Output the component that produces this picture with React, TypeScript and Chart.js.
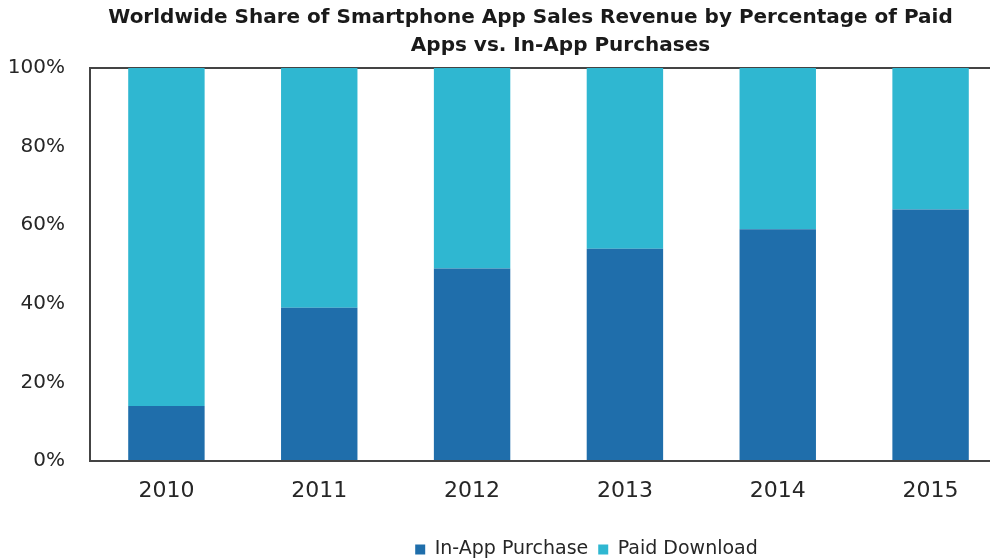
import React, { useEffect, useRef } from "react";
import { Chart, registerables, Title } from "chart.js";

Chart.register(...registerables);

const categories = ["2010", "2011", "2012", "2013", "2014", "2015"];
const inAppPurchase = [14, 39, 49, 54, 59, 64];
const paidDownload = [86, 61, 51, 46, 41, 36];
const yTicks = [0, 20, 40, 60, 80, 100];
const titleLine1 = "Worldwide Share of Smartphone App Sales Revenue by Percentage of Paid";
const titleLine2 = "Apps vs. In-App Purchases";

const TitleClass: any = (Title as any)._element;

const shiftPlugin = {
  id: "shiftBoxes",
  afterLayout(chart: any) {
    const boxes = chart.boxes || [];
    boxes.forEach((b: any) => {
      if (TitleClass && b instanceof TitleClass) {
        const dx = b === chart.titleBlock ? 27 : 57;
        b.left += dx;
        b.right += dx;
      }
    });
    if (chart.legend) {
      chart.legend.left += 83;
      chart.legend.right += 83;
      chart.legend.top += 11;
      chart.legend.bottom += 11;
    }
  },
};

export default function App() {
  const ref = useRef<HTMLCanvasElement>(null);
  useEffect(() => {
    if (!ref.current) return;
    const chart = new Chart(ref.current, {
      type: "bar",
      data: {
        labels: categories,
        datasets: [
          {
            label: "In-App Purchase",
            data: inAppPurchase,
            backgroundColor: "#1f6eab",
            borderWidth: 0,
          },
          {
            label: "Paid Download",
            data: paidDownload,
            backgroundColor: "#2fb7d1",
            borderWidth: 0,
          },
        ],
      },
      plugins: [shiftPlugin],
      options: {
        responsive: false,
        animation: false,
        layout: { padding: { left: 0, right: 3, top: 0, bottom: 1 } },
        datasets: { bar: { barPercentage: 0.5, categoryPercentage: 1 } },
        plugins: {
          title: {
            display: true,
            text: titleLine1,
            color: "#1a1a1a",
            font: { family: "DejaVu Sans", size: 20, weight: "bold", lineHeight: 1.2 },
            padding: { top: 6, bottom: 0 },
          },
          subtitle: {
            display: true,
            text: titleLine2,
            color: "#1a1a1a",
            font: { family: "DejaVu Sans", size: 20, weight: "bold", lineHeight: 1.2 },
            padding: { top: 4, bottom: 10 },
          },
          legend: {
            position: "bottom",
            labels: {
              boxWidth: 10,
              boxHeight: 10,
              padding: 10,
              color: "#262626",
              font: { family: "DejaVu Sans", size: 19 },
            },
          },
          tooltip: { enabled: false },
        },
        scales: {
          x: {
            stacked: true,
            grid: { display: false, drawTicks: false },
            border: { display: true, color: "#444", width: 2 },
            ticks: {
              color: "#262626",
              font: { family: "DejaVu Sans", size: 22 },
              padding: 17,
            },
            afterFit: (s: any) => {
              s.height = 58;
            },
          },
          y: {
            stacked: true,
            min: 0,
            max: 100,
            afterBuildTicks: (s: any) => {
              s.ticks = yTicks.map((v) => ({ value: v }));
            },
            grid: {
              drawTicks: false,
              color: (c: any) => (c.tick && c.tick.value === 100 ? "#444" : "rgba(0,0,0,0)"),
              lineWidth: 2,
            },
            border: { display: true, color: "#444", width: 2 },
            ticks: {
              color: "#262626",
              font: { family: "DejaVu Sans", size: 20 },
              padding: 25,
              callback: (v: any) => v + "%",
            },
            afterFit: (s: any) => {
              s.width = 90;
            },
          },
        },
      },
    });
    return () => chart.destroy();
  }, []);
  return (
    <div
      style={{
        position: "absolute",
        left: 0,
        top: 0,
        width: 990,
        height: 559,
        overflow: "hidden",
        background: "#fff",
      }}
    >
      <canvas ref={ref} width={1010} height={559} />
    </div>
  );
}
